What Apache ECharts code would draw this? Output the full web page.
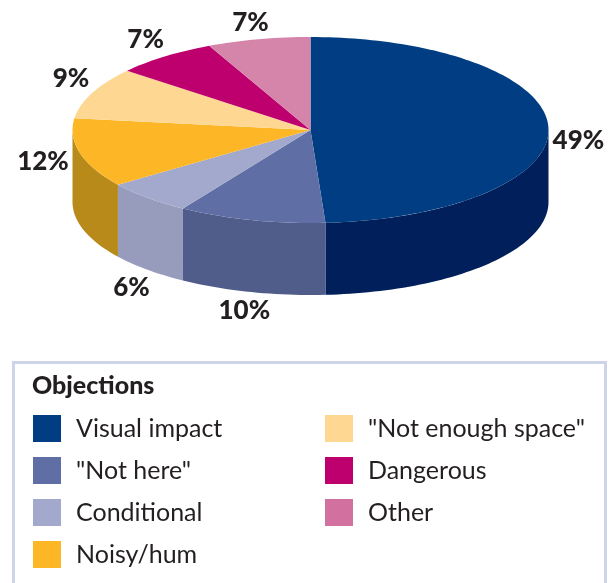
<!DOCTYPE html>
<html><head><meta charset="utf-8">
<script src="https://cdn.jsdelivr.net/npm/echarts@6/dist/echarts.min.js"></script>
<style>html,body{margin:0;padding:0;background:#fff}#c{width:614px;height:583px}</style>
</head><body><div id="c"></div>
<script>
var categories = ['Visual impact', '"Not here"', 'Conditional', 'Noisy/hum', '"Not enough space"', 'Dangerous', 'Other'];
var shares = [49, 10, 6, 12, 9, 7, 7];
var legendTitle = 'Objections';
var topColors = ['#003d82', '#5f6fa5', '#a3a9cc', '#fdb726', '#fed893', '#bd006e', '#d685aa'];
var wallColors = ['#001f5b', '#505c8a', '#979cbd', '#b88a1a', '#b88a1a', '#bd006e', '#d685aa'];
var legendColors = ['#003d82', '#5f6fa5', '#a3a9cc', '#fdb726', '#fed893', '#bd006e', '#d2719f'];
var labelNudge = [[30,14],[-7,91],[-16,90],[-37,8],[-21,-14],[-19,-16.5],[-8,-17]];

var CX = 310.5, CY = 130, RX = 238, RY = 93, DEPTH = 72;
var FONT = 'Lato, sans-serif';
var total = shares.reduce(function (a, b) { return a + b; }, 0);
function rim(deg, dy) {
  var r = deg * Math.PI / 180;
  return [CX + RX * Math.sin(r), CY - RY * Math.cos(r) + (dy || 0)];
}
function arc(a, b, dy) {
  var pts = [], n = Math.max(2, Math.ceil((b - a) / 1.5));
  for (var i = 0; i <= n; i++) pts.push(rim(a + (b - a) * i / n, dy));
  return pts;
}
var cum = 0;
var series = categories.map(function (name, i) {
  var start = cum / total * 360; cum += shares[i];
  return {
    type: 'custom', name: name, coordinateSystem: 'none', silent: true, animation: false,
    itemStyle: { color: legendColors[i] },
    data: [[start, shares[i] / total * 360, shares[i]]],
    renderItem: function (params, api) {
      var a = api.value(0), b = a + api.value(1), children = [];
      var wa = Math.max(a, 90), wb = Math.min(b, 270);
      if (wb > wa) {
        children.push({ type: 'polygon', shape: { points: arc(wa, wb, 0).concat(arc(wa, wb, DEPTH).reverse()) }, style: { fill: wallColors[i] } });
      }
      children.push({ type: 'polygon', shape: { points: [[CX, CY]].concat(arc(a, b, 0)) }, style: { fill: topColors[i] } });
      var m = rim((a + b) / 2, 0);
      children.push({ type: 'text', style: { x: m[0] + labelNudge[i][0], y: m[1] + labelNudge[i][1], text: api.value(2) + '%', fill: '#231f20', font: '900 26px ' + FONT, textAlign: 'center', textVerticalAlign: 'middle' } });
      return { type: 'group', children: children };
    }
  };
});
function legendFor(items, left) {
  return {
    show: true, orient: 'vertical', left: left, top: 415, padding: 0, itemWidth: 28, itemHeight: 27, itemGap: 15,
    icon: 'rect', selectedMode: false,
    textStyle: { color: '#231f20', fontSize: 25, fontFamily: FONT, padding: [2, 0, 0, 10] },
    data: items.map(function (n) { return { name: n, icon: 'rect', itemStyle: { color: legendColors[categories.indexOf(n)] } }; })
  };
}
var chart = echarts.init(document.getElementById('c'));
chart.setOption({
  animation: false,
  backgroundColor: '#fff',
  title: { text: legendTitle, left: 32, top: 373, padding: 0, textStyle: { color: '#231f20', fontFamily: FONT, fontWeight: 900, fontSize: 25 } },
  legend: [legendFor(categories.slice(0, 4), 33), legendFor(categories.slice(4), 325)],
  graphic: [{ type: 'rect', z: -1, silent: true, shape: { x: 13.5, y: 362.5, width: 592, height: 240 }, style: { fill: '#fff', stroke: '#cdd3e8', lineWidth: 3 } }],
  series: series
});
</script></body></html>
